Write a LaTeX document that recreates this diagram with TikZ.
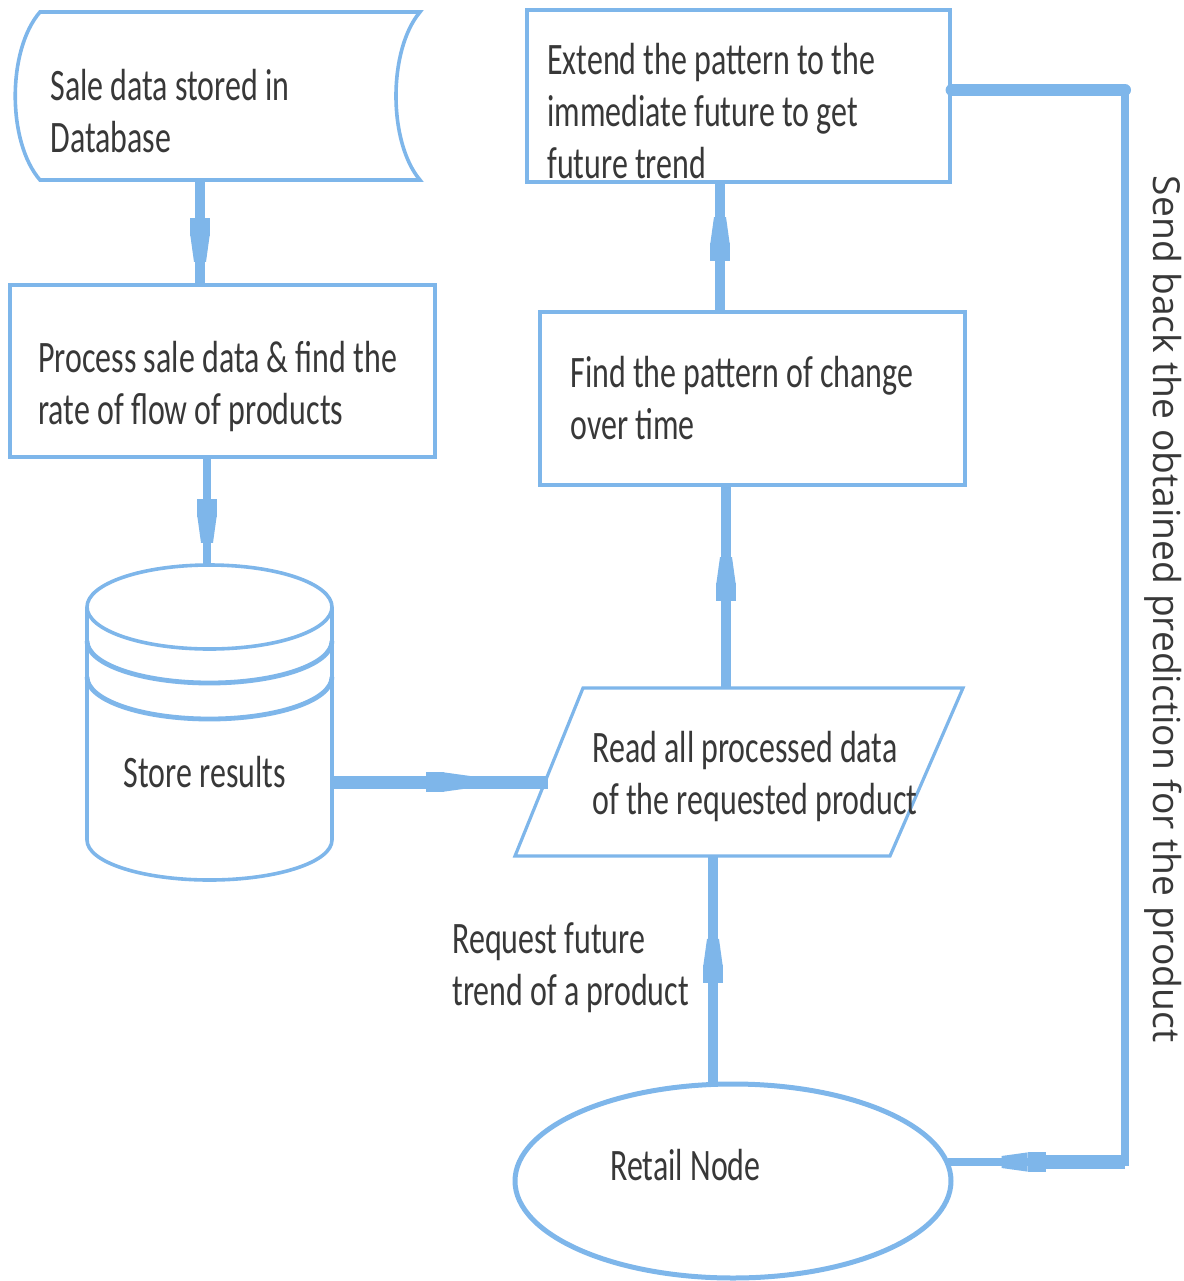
\documentclass[tikz,border=0pt]{standalone}
\usepackage{fontspec}
\setmainfont{Carlito}[FakeStretch=0.71]
\newfontfamily\vfont{Open Sans}
\usetikzlibrary{shapes.geometric,decorations.markings,calc}
\definecolor{lb}{HTML}{7EB6EA}
\definecolor{tx}{HTML}{383838}
\newcommand{\mytxt}[1]{\parbox[t]{300pt}{\raggedright #1}}
\tikzset{
  shp/.style={draw=lb,line width=1.6pt,fill=white},
  box/.style={shp,rectangle,inner sep=0pt},
  lbl/.style={anchor=base west,inner sep=0pt,text=tx,font=\fontsize{22.5pt}{26pt}\selectfont},
  conn/.style={draw=lb,line width=4.6pt},
  midmark/.style={postaction={decorate,decoration={markings,
     mark=at position #1 with {
       \fill[lb] (-7pt,-4.8pt) rectangle (2pt,4.8pt);
       \fill[lb] (2pt,-4.8pt) -- (15pt,-3pt) -- (15pt,3pt) -- (2pt,4.8pt) -- cycle;}}}},
  midmark/.default=0.5
}
\begin{document}
\begin{tikzpicture}[x=0.5pt,y=-0.5pt]
\useasboundingbox (0,0) rectangle (1184,1281);

% stored data shape
\draw[shp,line width=1.8pt] (40,12) -- (420,12) .. controls (388,50) and (388,142) .. (420,180)
   -- (40,180) .. controls (7,142) and (7,50) .. (40,12) -- cycle;
\node[inner sep=0pt,minimum width=202.5pt,minimum height=84pt] (sd) at (217.5,96) {};
\node[lbl] (sdt) at (50,100) {\mytxt{Sale data stored in\\Database}};

% process box
\node[box,minimum width=212.5pt,minimum height=86pt] (b2) at (222.5,371) {};
\node[lbl] (b2t) at (38,372) {\mytxt{Process sale data \& find the\\rate of flow of products}};

% cylinder
\draw[shp,line width=1.8pt] (87,607) -- (87,840) arc[start angle=180,end angle=0,x radius=122.5,y radius=40] -- (332,607);
\draw[shp,line width=1.8pt] (209.5,607) ellipse [x radius=122.5,y radius=42];
\draw[draw=lb,line width=2.4pt] (87,641) arc[start angle=180,end angle=0,x radius=122.5,y radius=42];
\draw[draw=lb,line width=2.4pt] (87,677) arc[start angle=180,end angle=0,x radius=122.5,y radius=42];
\node[inner sep=0pt,minimum width=122.5pt,minimum height=157.5pt] (cyl) at (209.5,722) {};
\node[anchor=base,inner sep=0pt,text=tx,font=\fontsize{22.5pt}{26pt}\selectfont] (cylt) at (205,787) {Store results};

% parallelogram
\draw[shp] (583,688) -- (963,688) -- (890,856) -- (515,856) -- cycle;
\node[inner sep=0pt,minimum width=224pt,minimum height=84pt] (par) at (739,772) {};
\node[lbl] (part) at (592,762) {\mytxt{Read all processed data\\of the requested product}};

% find pattern box
\node[box,minimum width=212.5pt,minimum height=86.5pt] (b3) at (752.5,398.5) {};
\node[lbl] (b3t) at (570,387) {\mytxt{Find the pattern of change\\over time}};

% extend box
\node[box,minimum width=211.5pt,minimum height=86pt] (b4) at (738.5,96) {};
\node[lbl] (b4t) at (547,74) {\mytxt{Extend the pattern to the\\immediate future to get\\future trend}};

% retail node
\node[draw=lb,line width=2.5pt,ellipse,inner sep=0pt,minimum width=218pt,minimum height=97pt] (ret) at (733,1181) {};
\node[lbl] (rett) at (610,1180) {Retail Node};

% request label
\node[lbl] (req) at (452,953) {\mytxt{Request future\\trend of a product}};

% side label
\node[rotate=-90,inner sep=0pt,text=tx,font=\vfont\fontsize{18.6pt}{22pt}\selectfont] (side) at (1163,609) {Send back the obtained prediction for the product};

% connectors
\draw[conn,midmark] (sd.south -| 200,0) -- (b2.north -| 200,0);
\draw[conn,line width=4pt,midmark] (b2.south -| 207,0) -- (207,567);
\draw[conn,line width=6.5pt,midmark] (cyl.east |- 0,782) -- (548,782);
\draw[conn,midmark] (par.north -| 726,0) -- (b3.south -| 726,0);
\draw[conn,midmark] (b3.north -| 720,0) -- (b4.south -| 720,0);
\draw[conn,midmark] (ret.north -| 713,0) -- (par.south -| 713,0);
\coordinate (rc1) at (1125,90);
\coordinate (rc2) at (1125,1162);
\coordinate (rin) at ($(ret.east |- rc2)+(-6,0)$);
\draw[conn,line width=4pt,line join=miter,midmark=-42pt] (b4.east |- rc1) -- (rc1) -- (rc2) -- (rin);
\draw[conn,line width=6pt,line cap=round] (b4.east |- rc1) -- (rc1);
\draw[conn,line width=7pt] (rc2) -- (1030,1162);
\end{tikzpicture}
\end{document}
